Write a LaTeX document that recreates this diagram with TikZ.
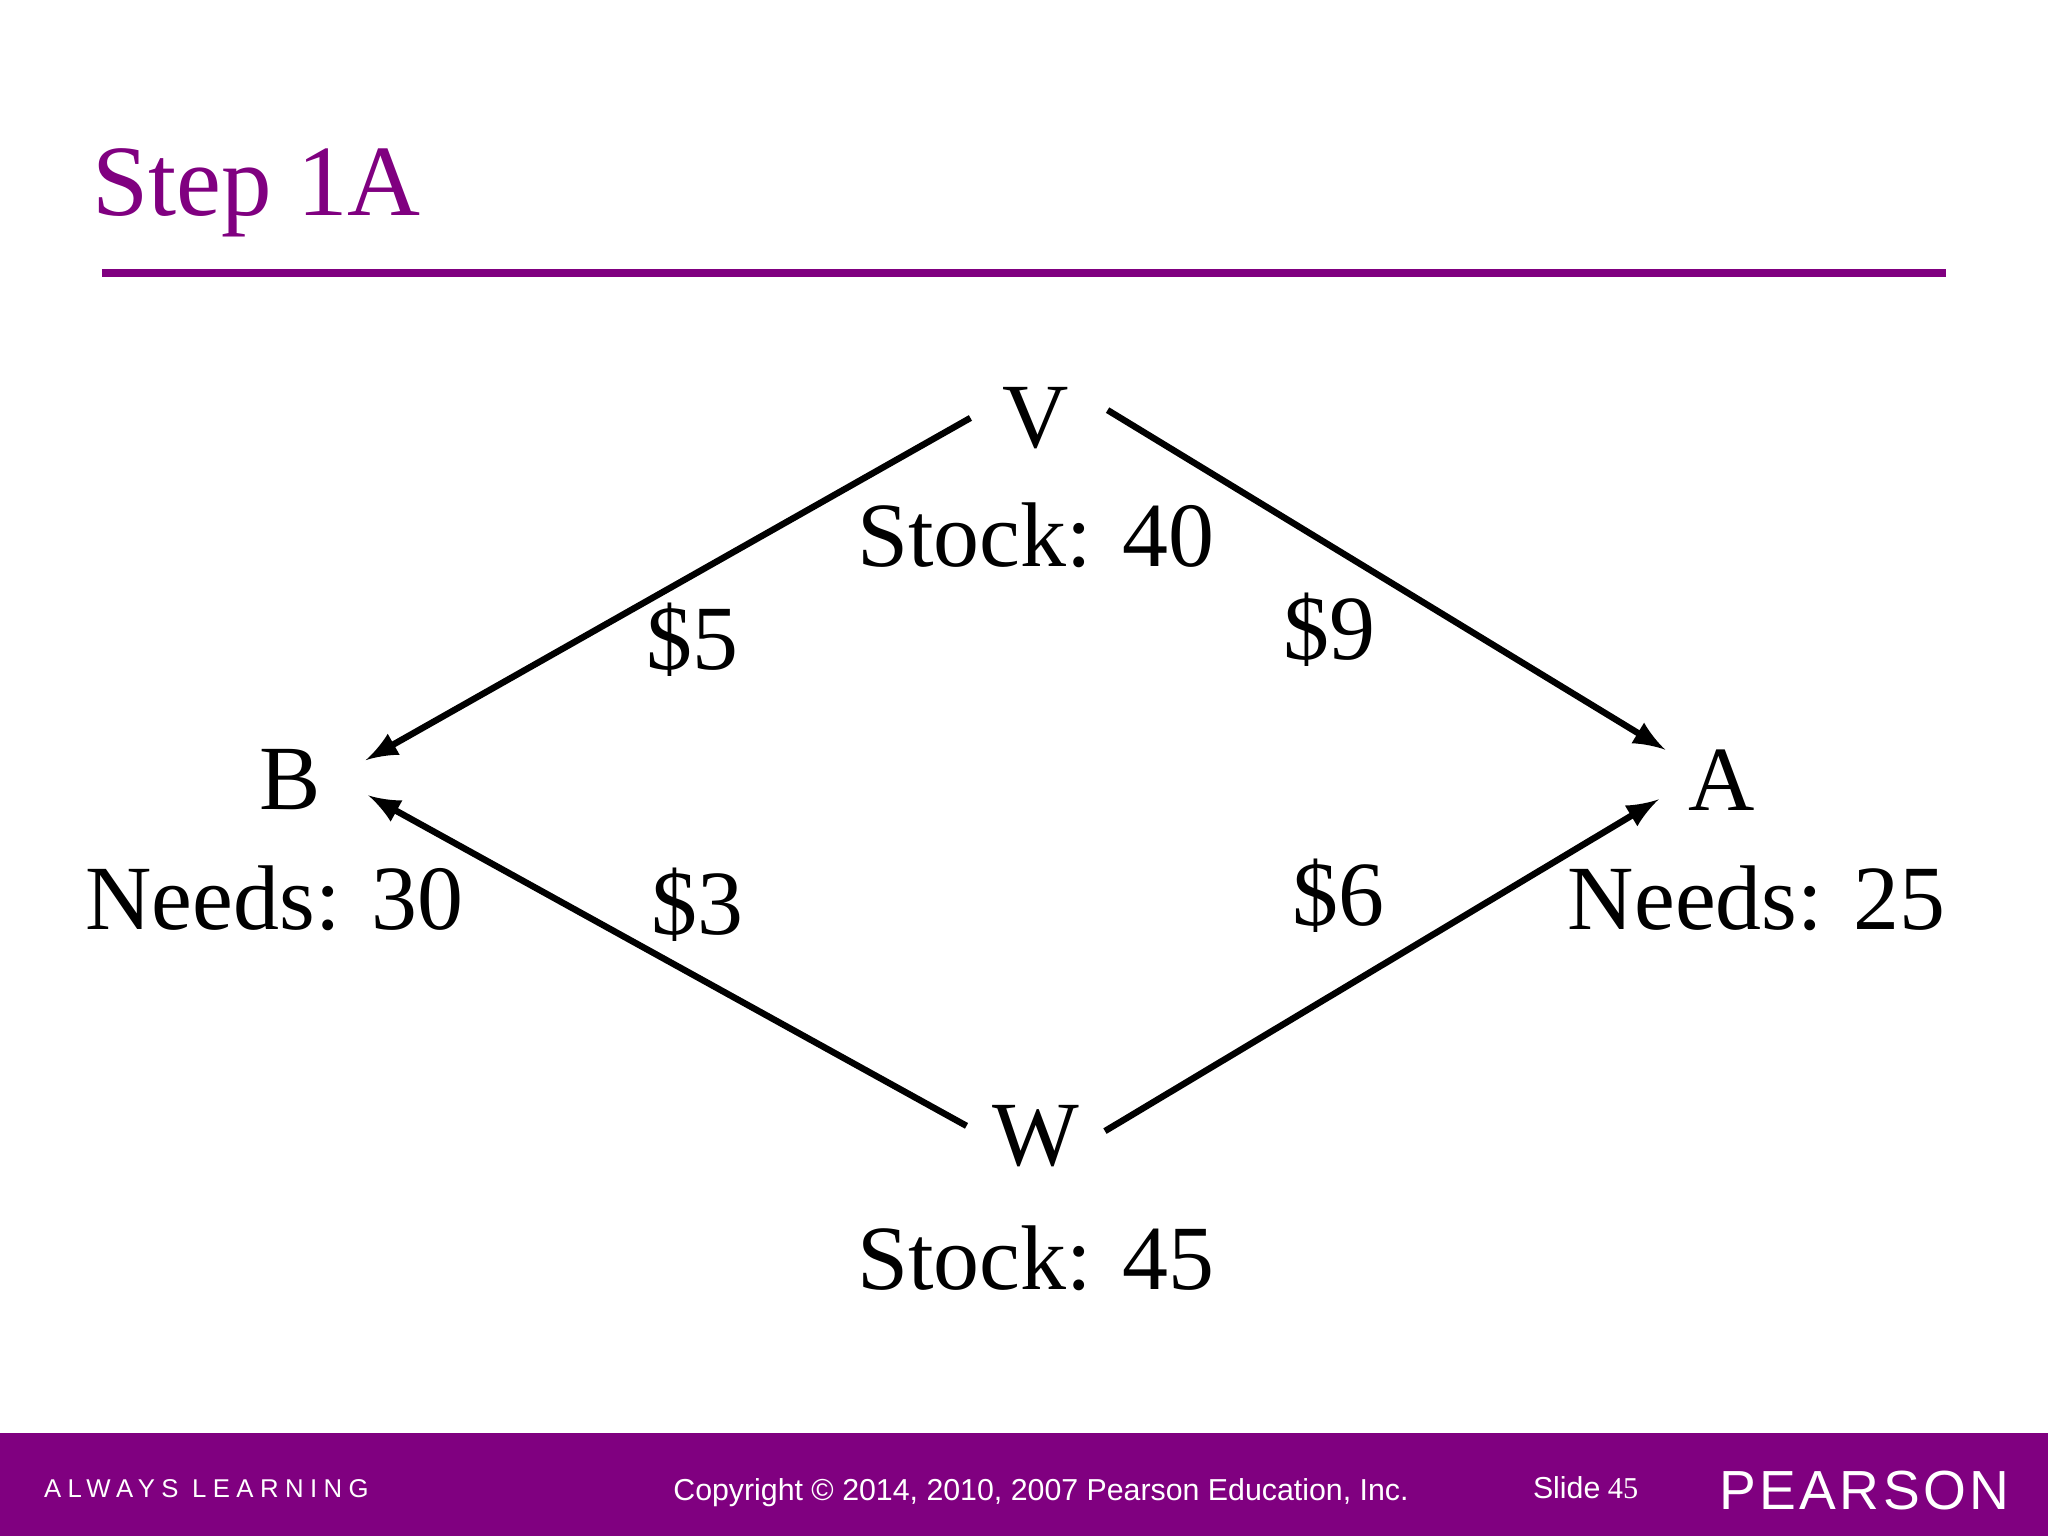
\documentclass[tikz,border=0pt]{standalone}
\usepackage{fontspec}
\setmainfont{Liberation Serif}
\setsansfont{Liberation Sans}
\definecolor{pp}{HTML}{800080}
\begin{document}
\begin{tikzpicture}[x=0.01cm,y=-0.01cm,
  lbl/.style={font=\fontsize{20}{24}\selectfont,inner sep=0pt},
  arr/.style={line width=1.4pt,-latex}]
\useasboundingbox (0,0) rectangle (1568,1176);
\fill[white] (0,0) rectangle (1568,1176);
\node[anchor=west,text=pp,font=\fontsize{22}{26}\selectfont,inner sep=0pt] (title) at (70,148) {Step 1A};
\draw[pp,line width=1.7pt] (78,209) coordinate (l1) -- (1490,209) coordinate (l2);
\node[lbl] (V) at (793,320) {V};
\node[lbl] (sv) at (793,410) {Stock: 40};
\node[lbl] (B) at (222,597) {B};
\node[lbl] (nb) at (210,688) {Needs: 30};
\node[lbl] (A) at (1318,597) {A};
\node[lbl] (na) at (1345,688) {Needs: 25};
\node[lbl] (W) at (793,870) {W};
\node[lbl] (sw) at (793,963) {Stock: 45};
\coordinate (v1) at (743,320); \coordinate (b1) at (280,582);
\coordinate (v2) at (848,314); \coordinate (a1) at (1275,574);
\coordinate (w1) at (740,862); \coordinate (b2) at (282,609);
\coordinate (w2) at (846,866); \coordinate (a2) at (1270,612);
\draw[arr] (v1) -- (b1);
\draw[arr] (v2) -- (a1);
\draw[arr] (w1) -- (b2);
\draw[arr] (w2) -- (a2);
\node[lbl] (c5) at (530,490) {\$5};
\node[lbl] (c9) at (1018,482) {\$9};
\node[lbl] (c3) at (534,693) {\$3};
\node[lbl] (c6) at (1025,686) {\$6};
\fill[pp] (0,1097) rectangle (1568,1176);
\node[anchor=west,text=white,inner sep=0pt,font=\sffamily\fontsize{5.6}{7}\selectfont\addfontfeature{LetterSpace=25}] (al) at (33,1140) {ALWAYS LEARNING};
\node[text=white,inner sep=0pt,font=\sffamily\fontsize{6.6}{8}\selectfont] (cp) at (797,1143) {Copyright © 2014, 2010, 2007 Pearson Education, Inc.};
\node[anchor=west,text=white,inner sep=0pt,font=\fontsize{6.6}{8}\selectfont] (sl) at (1173,1139) {{\sffamily Slide} 45};
\node[anchor=west,text=white,inner sep=0pt,font=\sffamily\fontsize{12}{14}\selectfont\addfontfeature{LetterSpace=6}] (ps) at (1316,1141) {PEARSON};
\end{tikzpicture}
\end{document}
